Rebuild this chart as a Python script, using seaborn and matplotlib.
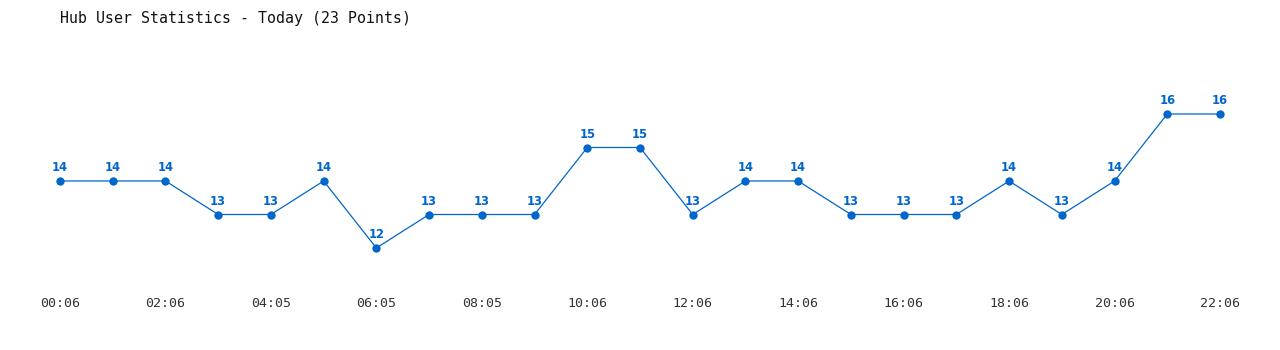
import matplotlib
matplotlib.use("Agg")
import matplotlib.pyplot as plt
import seaborn as sns
import pandas as pd

times = ["00:06", "01:06", "02:06", "03:06", "04:05", "05:05", "06:05", "07:05",
         "08:05", "09:06", "10:06", "11:06", "12:06", "13:06", "14:06", "15:06",
         "16:06", "17:06", "18:06", "19:06", "20:06", "21:06", "22:06"]
users = [14, 14, 14, 13, 13, 14, 12, 13, 13, 13, 15, 15, 13, 14, 14, 13, 13, 13,
         14, 13, 14, 16, 16]
tick_labels = ["00:06", "02:06", "04:05", "06:05", "08:05", "10:06", "12:06",
               "14:06", "16:06", "18:06", "20:06", "22:06"]

sns.set_style("white")
plt.rcParams['font.family'] = ['DejaVu Sans Mono', 'DejaVu Sans']

df = pd.DataFrame({"idx": range(len(users)), "users": users, "time": times})

W, H = 1280, 350
fig = plt.figure(figsize=(W / 100, H / 100), dpi=100)
left, right, top, bottom = 60, 1220, 114, 248
ax = fig.add_axes([left / W, 1 - bottom / H, (right - left) / W, (bottom - top) / H])

color = "#0066cc"
sns.lineplot(data=df, x="idx", y="users", ax=ax, color=color, linewidth=0.9,
             marker="o", markersize=6, markeredgewidth=0, clip_on=False)
ax.set_xlim(0, len(users) - 1)
ax.set_ylim(min(users), max(users))

for i, v in enumerate(users):
    ax.annotate(str(v), (i, v), xytext=(0, 5), textcoords="offset points",
                ha="center", va="bottom", fontsize=8.3, fontweight="bold",
                color=color, family="DejaVu Sans", annotation_clip=False)

ax.set_xticks(list(range(0, len(users), 2)))
ax.set_xticklabels(tick_labels, fontsize=9.5, color="#333333")
ax.tick_params(axis="x", length=0, pad=35)
ax.set_yticks([])
ax.set_xlabel("")
ax.set_ylabel("")
for s in ax.spines.values():
    s.set_visible(False)

fig.text(60 / W, 1 - 18 / H, "Hub User Statistics - Today (23 Points)",
         fontsize=10.7, color="#111111", ha="left", va="center")

fig.savefig("out.png", dpi=100, facecolor="white")
